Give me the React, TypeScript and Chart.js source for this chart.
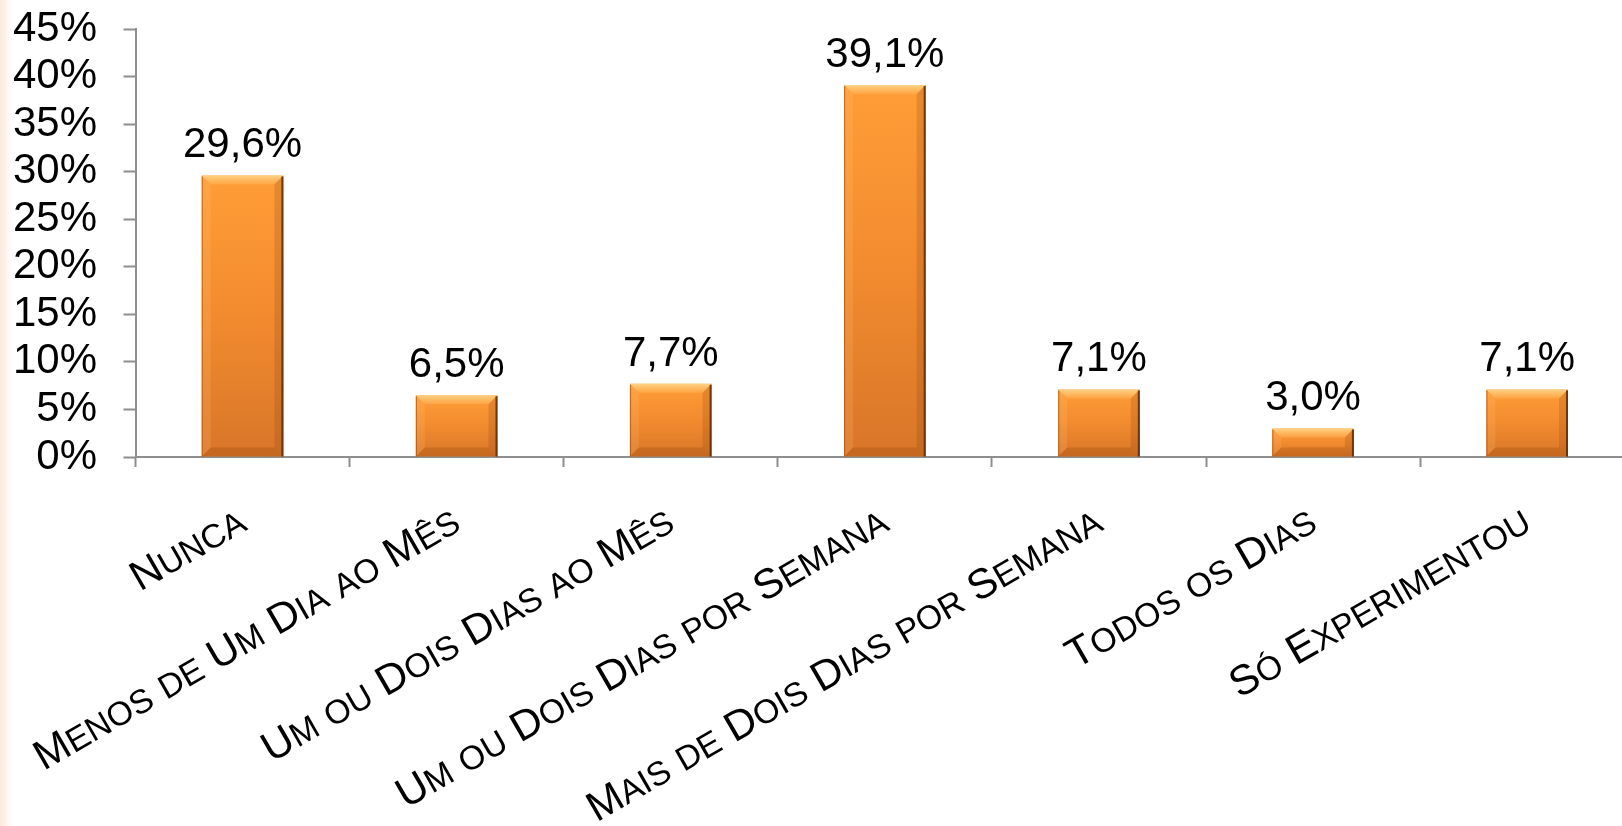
import React, { useEffect, useRef } from "react";
import { Chart, registerables } from "chart.js";

Chart.register(...registerables);

const categories: string[] = [
  "Nunca",
  "Menos de Um Dia ao Mês",
  "Um ou Dois Dias ao Mês",
  "Um ou Dois Dias por Semana",
  "Mais de Dois Dias por Semana",
  "Todos os Dias",
  "Só Experimentou",
];
const values: number[] = [29.6, 6.5, 7.7, 39.1, 7.1, 3.0, 7.1];
const yMin = 0;
const yMax = 45;
const yStep = 5;

const FONT = '"Liberation Sans", Arial, "DejaVu Sans", sans-serif';
const TICK_SIZE = 42;
const LABEL_SIZE = 42;
const CAT_SIZE = 42;
const SMALL_RATIO = 0.8;
const CAT_ANGLE = (-30 * Math.PI) / 180;
const AXIS_COLOR = "#8E8E8E";

const fmt = (v: number) => v.toFixed(1).replace(".", ",") + "%";

function smallCapsRuns(text: string) {
  const runs: { t: string; small: boolean }[] = [];
  for (const ch of text) {
    const small = ch !== ch.toUpperCase();
    const c = small ? ch.toUpperCase() : ch;
    const last = runs[runs.length - 1];
    if (last && last.small === small) last.t += c;
    else runs.push({ t: c, small });
  }
  return runs;
}

const barDecor = {
  id: "barDecor",
  afterDatasetsDraw(chart: any) {
    const ctx: CanvasRenderingContext2D = chart.ctx;
    const meta = chart.getDatasetMeta(0);
    meta.data.forEach((bar: any, i: number) => {
      const { x, y, base, width } = bar.getProps(["x", "y", "base", "width"], true);
      const L = x - width / 2;
      const R = x + width / 2;
      const T = Math.min(y, base);
      const B = Math.max(y, base);
      const b = Math.min(9, (B - T) / 2.5);
      ctx.save();
      // top bevel
      const gt = ctx.createLinearGradient(0, T, 0, T + b);
      gt.addColorStop(0, "rgba(255,214,140,0.95)");
      gt.addColorStop(1, "rgba(255,190,100,0.35)");
      ctx.fillStyle = gt;
      ctx.beginPath();
      ctx.moveTo(L, T);
      ctx.lineTo(R, T);
      ctx.lineTo(R - b, T + b);
      ctx.lineTo(L + b, T + b);
      ctx.closePath();
      ctx.fill();
      // left bevel
      ctx.fillStyle = "rgba(255,200,130,0.18)";
      ctx.beginPath();
      ctx.moveTo(L, T);
      ctx.lineTo(L + b, T + b);
      ctx.lineTo(L + b, B - b);
      ctx.lineTo(L, B);
      ctx.closePath();
      ctx.fill();
      // right bevel
      ctx.fillStyle = "rgba(120,50,0,0.18)";
      ctx.beginPath();
      ctx.moveTo(R, T);
      ctx.lineTo(R - b, T + b);
      ctx.lineTo(R - b, B - b);
      ctx.lineTo(R, B);
      ctx.closePath();
      ctx.fill();
      // bottom bevel
      ctx.fillStyle = "rgba(130,55,0,0.22)";
      ctx.beginPath();
      ctx.moveTo(L, B);
      ctx.lineTo(L + b, B - b);
      ctx.lineTo(R - b, B - b);
      ctx.lineTo(R, B);
      ctx.closePath();
      ctx.fill();
      // edges
      ctx.strokeStyle = "rgba(95,40,5,0.85)";
      ctx.lineWidth = 2;
      ctx.beginPath();
      ctx.moveTo(R - 1, T + 1);
      ctx.lineTo(R - 1, B);
      ctx.stroke();
      ctx.strokeStyle = "rgba(150,70,20,0.55)";
      ctx.lineWidth = 1.2;
      ctx.beginPath();
      ctx.moveTo(L + 0.6, T + 1);
      ctx.lineTo(L + 0.6, B);
      ctx.stroke();
      ctx.restore();

      // value label
      ctx.save();
      ctx.font = `${LABEL_SIZE}px ${FONT}`;
      ctx.fillStyle = "#000";
      ctx.textAlign = "center";
      ctx.textBaseline = "alphabetic";
      ctx.fillText(fmt(values[i]), x, T - 18);
      ctx.restore();
    });
  },
  afterDraw(chart: any) {
    const ctx: CanvasRenderingContext2D = chart.ctx;
    const xs = chart.scales.x;
    const bottom = chart.chartArea.bottom;
    const big = `${CAT_SIZE}px ${FONT}`;
    const small = `${CAT_SIZE * SMALL_RATIO}px ${FONT}`;
    categories.forEach((label, i) => {
      const cx = xs.getPixelForValue(i);
      const runs = smallCapsRuns(label);
      let total = 0;
      const widths = runs.map((r) => {
        ctx.font = r.small ? small : big;
        const w = ctx.measureText(r.t).width;
        total += w;
        return w;
      });
      ctx.save();
      ctx.translate(cx + 6, bottom + 72);
      ctx.rotate(CAT_ANGLE);
      ctx.fillStyle = "#000";
      ctx.textAlign = "left";
      ctx.textBaseline = "alphabetic";
      let px = -total;
      runs.forEach((r, k) => {
        ctx.font = r.small ? small : big;
        ctx.fillText(r.t, px, 0);
        px += widths[k];
      });
      ctx.restore();
    });
  },
};

export default function App() {
  const ref = useRef<HTMLCanvasElement | null>(null);

  useEffect(() => {
    if (!ref.current) return;
    const chart = new Chart(ref.current, {
      type: "bar",
      data: {
        labels: categories,
        datasets: [
          {
            data: values,
            barPercentage: 0.3816,
            categoryPercentage: 1,
            borderWidth: 0,
            backgroundColor: (c: any) => {
              const ch = c.chart;
              const ys = ch.scales && ch.scales.y;
              if (!ys || c.type !== "data") return "#F08A2E";
              const top = ys.getPixelForValue(c.raw);
              const base = ys.getPixelForValue(0);
              if (!isFinite(top) || !isFinite(base) || top === base) return "#F08A2E";
              const g = ch.ctx.createLinearGradient(0, top, 0, base);
              g.addColorStop(0, "#FF9D37");
              g.addColorStop(0.5, "#F28B2F");
              g.addColorStop(1, "#D87629");
              return g;
            },
          },
        ],
      },
      options: {
        animation: false,
        responsive: false,
        devicePixelRatio: 1,
        layout: { padding: { top: 29, bottom: 359, left: 0, right: 15.8 } },
        plugins: {
          legend: { display: false },
          tooltip: { enabled: false },
          title: { display: false },
        },
        scales: {
          x: {
            grid: {
              display: true,
              drawOnChartArea: false,
              drawTicks: true,
              tickLength: 10,
              tickColor: AXIS_COLOR,
              tickWidth: 2,
              offset: true,
            },
            border: { display: true, color: AXIS_COLOR, width: 2 },
            ticks: { display: false },
          },
          y: {
            min: yMin,
            max: yMax,
            ticks: {
              stepSize: yStep,
              autoSkip: false,
              color: "#000",
              padding: 26.5,
              font: { family: FONT, size: TICK_SIZE },
              callback: (v: any) => `${v}%`,
            },
            grid: {
              display: true,
              drawOnChartArea: false,
              drawTicks: true,
              tickLength: 12,
              tickColor: AXIS_COLOR,
              tickWidth: 2,
            },
            border: { display: true, color: AXIS_COLOR, width: 2 },
            afterFit: (s: any) => {
              s.width = 135.5;
              s.paddingTop = 0;
              s.paddingBottom = 0;
            },
          },
        },
      },
      plugins: [barDecor],
    });
    return () => chart.destroy();
  }, []);

  return (
    <div
      style={{
        position: "absolute",
        left: 0,
        top: 0,
        width: 1622,
        height: 826,
        overflow: "hidden",
        background:
          "linear-gradient(to right, #FBEADC 0px, #FDF1E8 5px, #FFFAF6 9px, #FFFFFF 13px)",
      }}
    >
      <canvas
        ref={ref}
        width={1650}
        height={826}
        style={{ display: "block", width: 1650, height: 826 }}
      />
    </div>
  );
}
